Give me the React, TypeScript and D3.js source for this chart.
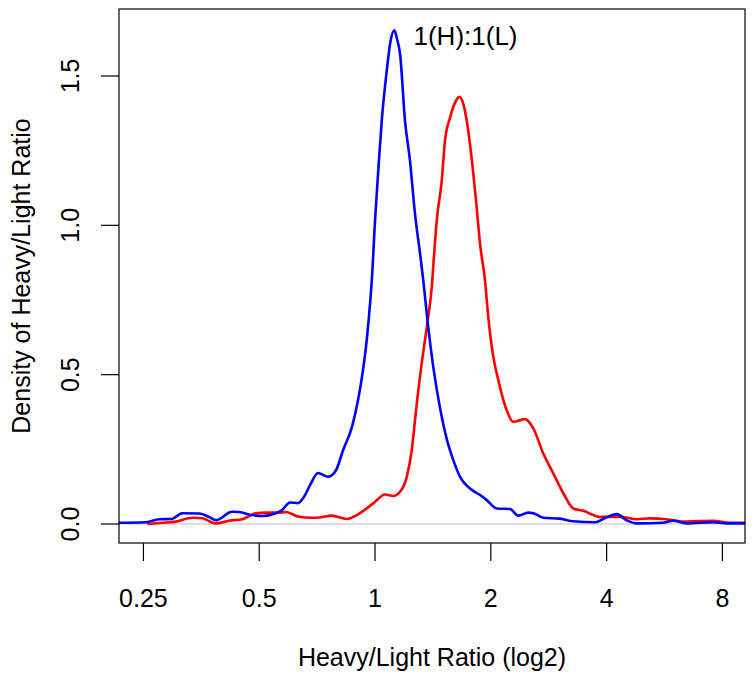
import React from "react";
import * as d3 from "d3";

// log2 of Heavy/Light ratio and density
const blueLog2 = [-2.211,-1.978,-1.865,-1.753,-1.667,-1.520,-1.434,-1.373,-1.235,-1.174,-1.062,-0.976,-0.855,-0.803,-0.734,-0.665,-0.613,-0.561,-0.492,-0.406,-0.337,-0.276,-0.199,-0.147,-0.104,-0.069,-0.043,-0.028,0,0.028,0.058,0.101,0.134,0.167,0.190,0.216,0.259,0.302,0.345,0.389,0.417,0.453,0.503,0.561,0.622,0.676,0.734,0.820,0.907,0.965,1.051,1.166,1.237,1.324,1.367,1.453,1.598,1.710,1.900,1.986,2.087,2.174,2.260,2.487,2.573,2.692,2.919,3.040,3.195];
const blueDensity = [0.004,0.006,0.016,0.017,0.036,0.035,0.024,0.013,0.041,0.040,0.030,0.027,0.036,0.047,0.072,0.070,0.091,0.130,0.171,0.158,0.180,0.247,0.325,0.414,0.515,0.626,0.738,0.815,1.016,1.183,1.350,1.517,1.617,1.653,1.624,1.574,1.350,1.216,1.039,0.905,0.815,0.682,0.526,0.389,0.281,0.214,0.158,0.119,0.097,0.080,0.052,0.050,0.028,0.038,0.036,0.021,0.018,0.009,0.006,0.020,0.033,0.012,0.002,0.004,0.011,0.002,0.006,0.002,0.002];

const redLog2 = [-1.966,-1.837,-1.721,-1.578,-1.491,-1.376,-1.261,-1.146,-1.030,-0.944,-0.829,-0.771,-0.656,-0.541,-0.475,-0.374,-0.244,-0.158,-0.015,0.086,0.158,0.216,0.274,0.317,0.345,0.374,0.403,0.455,0.490,0.505,0.533,0.576,0.604,0.648,0.691,0.728,0.763,0.792,0.820,0.849,0.878,0.907,0.950,0.978,1.022,1.065,1.137,1.194,1.295,1.367,1.453,1.540,1.626,1.712,1.799,1.943,2.116,2.260,2.375,2.519,2.662,2.921,3.066,3.195];
const redDensity = [0.000,0.004,0.008,0.021,0.019,0.002,0.011,0.016,0.036,0.038,0.038,0.040,0.024,0.021,0.022,0.028,0.017,0.030,0.069,0.099,0.094,0.108,0.158,0.247,0.347,0.448,0.537,0.682,0.793,0.875,1.016,1.149,1.283,1.361,1.411,1.430,1.406,1.350,1.272,1.172,1.060,0.938,0.815,0.693,0.559,0.481,0.381,0.342,0.351,0.320,0.236,0.169,0.103,0.052,0.044,0.024,0.024,0.016,0.019,0.016,0.008,0.011,0.004,0.004];

const xTickLog2 = [-2, -1, 0, 1, 2, 3];
const xTickLabels = ["0.25", "0.5", "1", "2", "4", "8"];
const yTicks = [0, 0.5, 1.0, 1.5];
const yTickLabels = ["0.0", "0.5", "1.0", "1.5"];

const W = 753, H = 677;
const L = 119, R = 745, T = 9, B = 543;
const FONT = "'Liberation Sans', Arial, Helvetica, sans-serif";

export default function App() {
  const x = d3.scaleLinear().domain([-2.211, 3.195]).range([L, R]);
  const y = d3.scaleLinear().domain([-0.0636, 1.7243]).range([B, T]);
  const line = d3.line<[number, number]>().x(d => x(d[0])).y(d => y(d[1])).curve(d3.curveMonotoneX);
  const blue = blueLog2.map((v, i) => [v, blueDensity[i]] as [number, number]);
  const red = redLog2.map((v, i) => [v, redDensity[i]] as [number, number]);

  return (
    <svg width={W} height={H} style={{ position: "absolute", left: 0, top: 0, background: "#fff" }} fontFamily={FONT}>
      <defs>
        <clipPath id="plot"><rect x={L} y={T} width={R - L} height={B - T} /></clipPath>
      </defs>
      <rect x={0} y={0} width={W} height={H} fill="#fff" />
      <g clipPath="url(#plot)">
        <line x1={L} x2={R} y1={y(0)} y2={y(0)} stroke="#bebebe" strokeWidth={1.2} />
        <path d={line(red) || ""} fill="none" stroke="#ff0000" strokeWidth={2.6} strokeLinejoin="round" />
        <path d={line(blue) || ""} fill="none" stroke="#0000ff" strokeWidth={2.6} strokeLinejoin="round" />
      </g>
      <rect x={L} y={T} width={R - L} height={B - T} fill="none" stroke="#000" strokeWidth={1.2} />
      {xTickLog2.map((t, i) => (
        <g key={"xt" + i}>
          <line x1={x(t)} x2={x(t)} y1={B} y2={B + 18} stroke="#000" strokeWidth={1.2} />
          <text x={x(t)} y={607} fontSize={25} textAnchor="middle" fill="#000">{xTickLabels[i]}</text>
        </g>
      ))}
      {yTicks.map((t, i) => (
        <g key={"yt" + i}>
          <line x1={L - 18} x2={L} y1={y(t)} y2={y(t)} stroke="#000" strokeWidth={1.2} />
          <text transform={`translate(79,${y(t)}) rotate(-90)`} fontSize={25} textAnchor="middle" fill="#000">{yTickLabels[i]}</text>
        </g>
      ))}
      <text x={(L + R) / 2} y={666} fontSize={25} textAnchor="middle" fill="#000">Heavy/Light Ratio (log2)</text>
      <text transform={`translate(30,${(T + B) / 2}) rotate(-90)`} fontSize={25} textAnchor="middle" fill="#000">Density of Heavy/Light Ratio</text>
      <text x={465.5} y={45} fontSize={26} textAnchor="middle" fill="#000">1(H):1(L)</text>
    </svg>
  );
}
